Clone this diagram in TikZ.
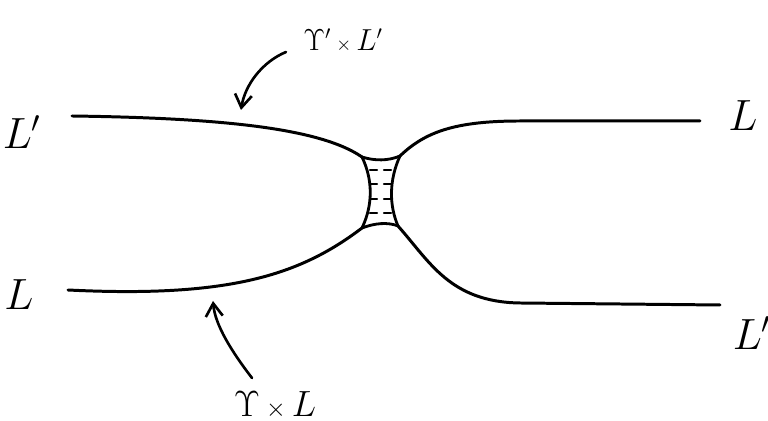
\documentclass[tikz,border=0pt]{standalone}
\usepackage{amsmath,amssymb}
\usetikzlibrary{arrows.meta}

\begin{document}
\begin{tikzpicture}[
    x=0.02cm, y=-0.02cm,
    >={Straight Barb[length=2.6mm,width=3.4mm]},
    strand/.style={line width=1.7pt, black, line cap=round},
    neck/.style={line width=1.6pt, black, line cap=round},
    rung/.style={line width=1.3pt, black, line cap=round},
    pointer/.style={->, line width=1.5pt, black, line cap=round},
    tag/.style={font=\fontsize{25}{30}\selectfont, inner sep=0pt},
    smalltag/.style={font=\fontsize{16}{19}\selectfont, inner sep=0pt}
]
    \useasboundingbox (0,0) rectangle (768,421);

    % corners of the neck
    \coordinate (nTL) at (362,157);
    \coordinate (nTR) at (400,156);
    \coordinate (nBL) at (362,228);
    \coordinate (nBR) at (398,226);

    % end labels
    \node[tag] (lTL) at (22,132) {$L'$};
    \node[tag] (lBL) at (19,295) {$L$};
    \node[tag] (lTR) at (743,116) {$L$};
    \node[tag] (lBR) at (752,333) {$L'$};

    % the four strands
    \draw[strand] (72,116) .. controls (220,118) and (320,128) .. (nTL);
    \draw[strand] (nTR) .. controls (425,132) and (455,121) .. (520,121) -- (700,121);
    \draw[strand] (68,290) .. controls (230,298) and (300,275) .. (nBL);
    \draw[strand] (nBR) .. controls (430,262) and (450,302) .. (520,303) -- (720,305);

    % the neck
    \draw[neck] (nTL) .. controls (375,161) and (388,161) .. (nTR);
    \draw[neck] (nBL) .. controls (375,223) and (388,222) .. (nBR);
    \draw[neck] (nTL) .. controls (373,180) and (373,205) .. (nBL);
    \draw[neck] (nTR) .. controls (389,180) and (389,205) .. (nBR);
    \foreach \y in {170,184,199,213} {
        \draw[rung] (370,\y) -- (377,\y);
        \draw[rung] (384,\y) -- (391,\y);
    }

    % product labels and arrows
    \node[smalltag] (pTop) at (343,40) {$\Upsilon'\,{\scriptstyle\times}\,L'$};
    \node[font=\fontsize{21}{25}\selectfont, inner sep=0pt] (pBot) at (275,405) {$\Upsilon\,{\scriptstyle\times}\,L$};
    \coordinate (aTop) at (241,110);
    \coordinate (aBot) at (213,301);
    \draw[pointer] (286,52) .. controls (262,62) and (245,85) .. (aTop);
    \draw[pointer] (252,378) .. controls (232,352) and (215,325) .. (aBot);
\end{tikzpicture}
\end{document}
